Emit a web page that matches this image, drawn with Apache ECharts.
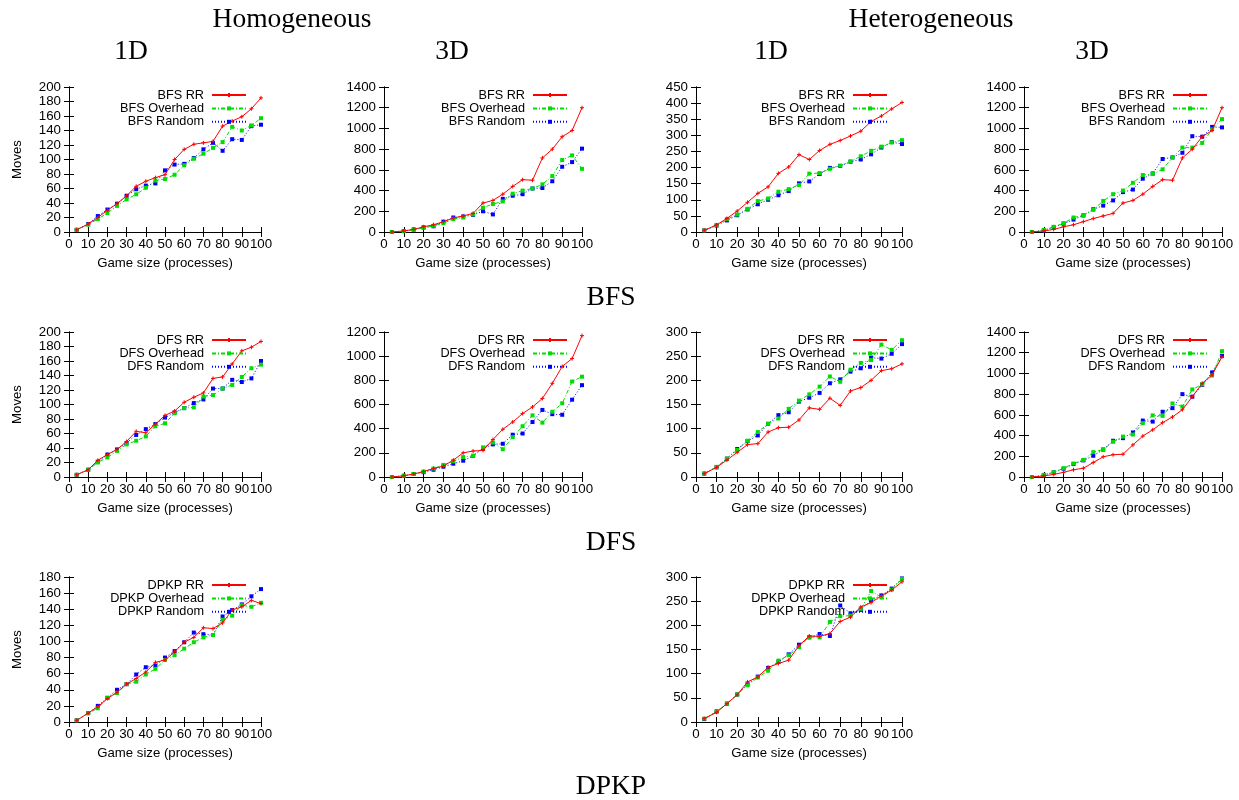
<!DOCTYPE html>
<html>
<head>
<meta charset="utf-8">
<script src="https://cdn.jsdelivr.net/npm/echarts@6/dist/echarts.min.js"></script>
<style>html,body{margin:0;padding:0;background:#fff;}#c{width:1239px;height:800px;}</style>
</head>
<body>
<div id="c"></div>
<script>
// x values (game size)
const gameSizes = [4,10,15,20,25,30,35,40,45,50,55,60,65,70,75,80,85,90,95,100];

// Homogeneous 1D BFS
const homBfs1dRR       = [3,11,20,30,39,50,63,70,75,79,100,114,121,123,125,146,153,159,170,185];
const homBfs1dOverhead = [3,10,18,26,36,45,52,61,71,73,79,92,101,108,116,124,145,140,147,157];
const homBfs1dRandom   = [3,11,22,31,39,50,59,64,67,85,93,94,102,114,123,112,128,127,146,148];
// Homogeneous 3D BFS
const homBfs3dRR       = [0,10,25,50,70,100,135,155,180,280,305,365,440,505,500,715,800,920,980,1200];
const homBfs3dOverhead = [0,8,20,40,60,85,125,140,170,235,270,295,370,400,420,460,540,695,740,610];
const homBfs3dRandom   = [0,10,25,45,55,100,140,150,165,200,170,320,350,365,420,425,490,630,675,805];
// Heterogeneous 1D BFS
const hetBfs1dRR       = [5,22,42,65,92,120,140,182,202,240,225,253,272,284,298,313,343,360,382,402];
const hetBfs1dOverhead = [5,22,40,54,72,96,104,125,133,146,181,183,196,206,219,235,252,265,278,285];
const hetBfs1dRandom   = [5,20,36,52,70,86,100,114,127,151,157,180,199,205,218,225,241,262,279,273];
// Heterogeneous 3D BFS
const hetBfs3dRR       = [0,10,25,50,70,100,130,155,180,280,305,365,440,505,500,715,800,920,980,1200];
const hetBfs3dOverhead = [0,20,50,85,140,160,215,300,365,400,475,550,560,605,720,815,815,860,990,1090];
const hetBfs3dRandom   = [0,15,45,80,120,160,220,255,305,385,410,515,565,705,720,765,925,920,1015,1010];
// Homogeneous 1D DFS
const homDfs1dRR       = [3,10,23,31,38,49,63,61,73,85,91,103,110,116,136,138,156,174,179,187];
const homDfs1dOverhead = [3,10,20,27,36,45,50,56,70,74,88,95,96,111,113,122,127,138,150,155];
const homDfs1dRandom   = [3,10,21,31,38,47,58,66,73,82,89,95,102,107,122,122,134,131,136,160];
// Homogeneous 3D DFS
const homDfs3dRR       = [0,10,25,45,70,90,140,200,215,220,310,395,455,525,580,650,775,915,980,1170];
const homDfs3dOverhead = [0,10,25,45,70,100,130,165,175,245,285,230,330,420,510,450,540,610,790,830];
const homDfs3dRandom   = [0,10,25,40,60,85,110,135,175,235,270,275,350,360,455,555,520,515,640,760];
// Heterogeneous 1D DFS
const hetDfs1dRR       = [7,20,35,51,67,69,93,102,103,118,143,140,163,148,178,185,200,220,224,234];
const hetDfs1dOverhead = [7,21,38,56,75,93,110,121,141,158,171,187,208,197,222,236,242,274,263,283];
const hetDfs1dRandom   = [7,20,38,58,74,86,110,128,134,156,164,174,194,202,218,225,247,245,255,275];
// Heterogeneous 3D DFS
const hetDfs3dRR       = [0,10,25,45,70,85,140,195,215,220,310,395,455,525,580,650,775,905,985,1160];
const hetDfs3dOverhead = [0,20,45,85,130,165,240,265,340,390,410,520,595,590,710,680,845,895,980,1215];
const hetDfs3dRandom   = [0,20,45,80,125,160,205,265,350,375,430,545,535,630,665,800,775,890,1010,1170];
// Homogeneous 1D DPKP
const homDpkp1dRR       = [2,11,19,29,37,47,54,62,74,77,87,99,105,117,116,123,139,143,151,147];
const homDpkp1dOverhead = [2,11,17,30,36,47,50,59,66,77,83,91,99,105,108,127,132,145,143,148];
const homDpkp1dRandom   = [2,11,20,30,40,47,59,68,70,80,88,99,111,109,108,131,139,146,156,165];
// Heterogeneous 1D DPKP
const hetDpkp1dRR       = [7,20,38,56,83,93,113,121,128,158,178,177,183,208,217,238,247,261,273,290];
const hetDpkp1dOverhead = [7,21,38,57,76,92,106,127,138,155,176,175,207,219,220,234,271,258,274,296];
const hetDpkp1dRandom   = [6,22,38,57,78,94,112,124,140,160,175,182,178,241,225,232,252,262,276,297];

// labels
const seriesSuffixes = ['RR','Overhead','Random'];
const xAxisName = 'Game size (processes)';
const yAxisName = 'Moves';
const titleTexts = [
  {t:'Homogeneous', x:292, y:20}, {t:'Heterogeneous', x:931, y:20},
  {t:'1D', x:131, y:52}, {t:'3D', x:452, y:52}, {t:'1D', x:771, y:52}, {t:'3D', x:1092, y:52},
  {t:'BFS', x:611, y:298}, {t:'DFS', x:611, y:543}, {t:'DPKP', x:611, y:787}
];

const cols = [[69,261],[384,582],[696,902],[1024,1222]];
const rows = [[87,232],[332,477],[577,722]];

const panels = [
  {c:0,r:0,algo:'BFS',yMax:200,yInt:20,ylab:true,d:[homBfs1dRR,homBfs1dOverhead,homBfs1dRandom]},
  {c:1,r:0,algo:'BFS',yMax:1400,yInt:200,d:[homBfs3dRR,homBfs3dOverhead,homBfs3dRandom]},
  {c:2,r:0,algo:'BFS',yMax:450,yInt:50,d:[hetBfs1dRR,hetBfs1dOverhead,hetBfs1dRandom]},
  {c:3,r:0,algo:'BFS',yMax:1400,yInt:200,d:[hetBfs3dRR,hetBfs3dOverhead,hetBfs3dRandom]},
  {c:0,r:1,algo:'DFS',yMax:200,yInt:20,ylab:true,d:[homDfs1dRR,homDfs1dOverhead,homDfs1dRandom]},
  {c:1,r:1,algo:'DFS',yMax:1200,yInt:200,d:[homDfs3dRR,homDfs3dOverhead,homDfs3dRandom]},
  {c:2,r:1,algo:'DFS',yMax:300,yInt:50,d:[hetDfs1dRR,hetDfs1dOverhead,hetDfs1dRandom]},
  {c:3,r:1,algo:'DFS',yMax:1400,yInt:200,d:[hetDfs3dRR,hetDfs3dOverhead,hetDfs3dRandom]},
  {c:0,r:2,algo:'DPKP',yMax:180,yInt:20,ylab:true,d:[homDpkp1dRR,homDpkp1dOverhead,homDpkp1dRandom]},
  {c:2,r:2,algo:'DPKP',yMax:300,yInt:50,d:[hetDpkp1dRR,hetDpkp1dOverhead,hetDpkp1dRandom]}
];

const W = 1239;
const sansFont = '"Liberation Sans", Arial, Helvetica, sans-serif';
const styles = [
  {color:'#ff0000', type:'solid', symbol:'path://M0,5L10,5M5,0L5,10', size:4},
  {color:'#00dd00', type:[4,2,1,2], symbol:'rect', size:4},
  {color:'#0000ff', type:[1,2], symbol:'rect', size:4}
];

const grid=[], xAxis=[], yAxis=[], series=[], legend=[];
panels.forEach((p,i)=>{
  const [l,rt] = cols[p.c], [t,b] = rows[p.r];
  grid.push({left:l, top:t, width:rt-l, height:b-t, containLabel:false});
  const axLine = {show:true, lineStyle:{color:'#000', width:1}};
  const tick = {show:true, inside:true, length:5, lineStyle:{color:'#000'}};
  xAxis.push({type:'value', gridIndex:i, position:'bottom', min:0, max:100, interval:10,
    axisLine:axLine, axisTick:tick, splitLine:{show:false},
    axisLabel:{color:'#000', fontFamily:sansFont, fontSize:13.3, margin:6, formatter:v=>String(v)},
    name:xAxisName, nameLocation:'middle', nameGap:25,
    nameTextStyle:{color:'#000', fontFamily:sansFont, fontSize:13.2}});
  xAxis.push({type:'value', gridIndex:i, position:'top', min:0, max:100, interval:10,
    axisLine:axLine, axisTick:tick, splitLine:{show:false}, axisLabel:{show:false}});
  yAxis.push({type:'value', gridIndex:i, position:'left', min:0, max:p.yMax, interval:p.yInt,
    axisLine:axLine, axisTick:tick, splitLine:{show:false},
    axisLabel:{color:'#000', fontFamily:sansFont, fontSize:13.3, margin:8, formatter:v=>String(v)},
    name:p.ylab ? yAxisName : '', nameLocation:'middle', nameGap:45, nameRotate:90,
    nameTextStyle:{color:'#000', fontFamily:sansFont, fontSize:13.2}});
  yAxis.push({type:'value', gridIndex:i, position:'right', min:0, max:p.yMax, interval:p.yInt,
    axisLine:axLine, axisTick:tick, splitLine:{show:false}, axisLabel:{show:false}});
  p.d.forEach((arr,k)=>{
    const st = styles[k];
    const name = p.algo + ' ' + seriesSuffixes[k];
    series.push({type:'line', name:name, xAxisIndex:2*i, yAxisIndex:2*i,
      data: gameSizes.map((x,j)=>[x, arr[j]]),
      symbol: st.symbol, symbolSize: st.size, showSymbol:true,
      lineStyle:{color:st.color, width:1, type:st.type},
      itemStyle:{color:st.color, borderColor:st.color, borderWidth: k===0?1:0},
      animation:false, z: 3-k});
    legend.push({data:[name], orient:'horizontal', align:'right', padding:0,
      right: W - (rt - 14), top: t + 8 + k*13.4 - 7,
      itemWidth:34, itemHeight:5, selectedMode:false,
      textStyle:{color:'#000', fontFamily:sansFont, fontSize:12.7, lineHeight:14, padding:[0,3,0,0]}});
  });
});

const graphic = titleTexts.map(o=>({type:'text', x:o.x, y:o.y,
  style:{text:o.t, fill:'#000', font:'27.5px "Liberation Serif", "Times New Roman", serif',
    textAlign:'center', textVerticalAlign:'middle'}}));

const chart = echarts.init(document.getElementById('c'), null, {renderer:'canvas'});
chart.setOption({animation:false, backgroundColor:'#fff', grid, xAxis, yAxis, series, legend, graphic});
</script>
</body>
</html>
